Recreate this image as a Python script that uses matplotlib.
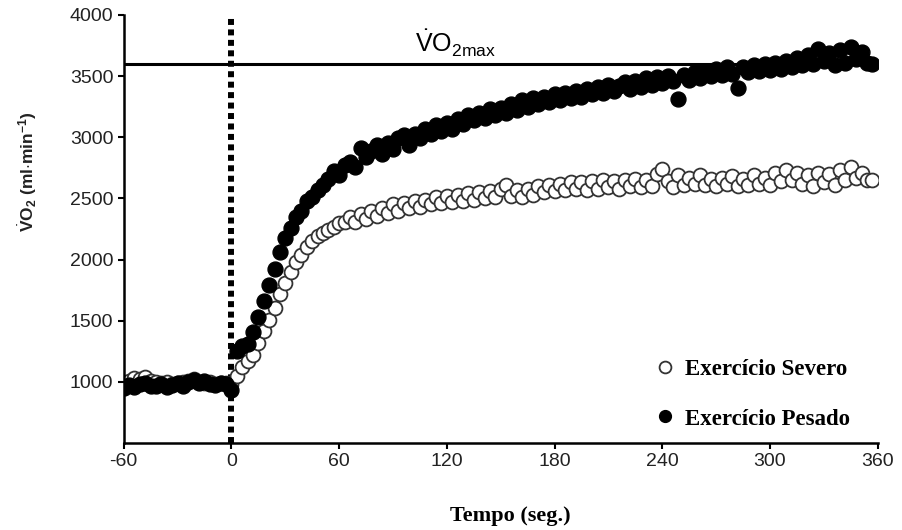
import matplotlib
matplotlib.use("Agg")
import matplotlib.pyplot as plt
from matplotlib.lines import Line2D

plt.rcParams['font.family'] = ['Liberation Sans', 'DejaVu Sans']
plt.rcParams['mathtext.fontset'] = 'custom'
plt.rcParams['mathtext.rm'] = 'Liberation Sans'
plt.rcParams['mathtext.bf'] = 'Liberation Sans:bold'
plt.rcParams['mathtext.it'] = 'Liberation Sans:italic'
plt.rcParams['axes.unicode_minus'] = False

# sampling grid (s), one point every 3 s
tempo = list(range(-60, 360, 3))

# VO2 (ml/min)
pesado = [
    950, 975, 960, 985, 990, 970, 965, 980, 960, 975,
    990, 970, 1000, 1015, 990, 1010, 985, 975, 990, 980,
    930, 1250, 1290, 1310, 1410, 1530, 1660, 1790, 1920, 2060,
    2180, 2260, 2350, 2400, 2480, 2510, 2570, 2610, 2660, 2720,
    2690, 2770, 2800, 2760, 2910, 2840, 2890, 2940, 2860, 2950,
    2900, 2990, 3020, 2940, 3030, 2990, 3070, 3030, 3100, 3050,
    3120, 3070, 3150, 3110, 3180, 3140, 3200, 3160, 3230, 3180,
    3240, 3200, 3270, 3220, 3300, 3250, 3320, 3270, 3330, 3290,
    3350, 3300, 3360, 3320, 3380, 3330, 3390, 3350, 3410, 3360,
    3430, 3380, 3420, 3450, 3390, 3460, 3410, 3480, 3430, 3490,
    3440, 3500, 3460, 3310, 3510, 3470, 3530, 3480, 3540, 3500,
    3560, 3510, 3570, 3520, 3400, 3570, 3530, 3590, 3540, 3600,
    3550, 3610, 3560, 3620, 3570, 3650, 3590, 3670, 3600, 3720,
    3620, 3690, 3590, 3710, 3610, 3740, 3640, 3700, 3610, 3600,
]
severo = [
    990, 1010, 1030, 1020, 1040, 1010, 1000, 990, 1000, 980,
    990, 1000, 1010, 1020, 1000, 990, 1000, 985, 995, 990,
    980, 1050, 1120, 1170, 1220, 1320, 1420, 1510, 1600, 1720,
    1810, 1900, 1980, 2040, 2100, 2150, 2190, 2220, 2240, 2270,
    2300, 2310, 2350, 2310, 2370, 2330, 2400, 2360, 2420, 2380,
    2450, 2400, 2460, 2420, 2480, 2430, 2490, 2450, 2510, 2460,
    2520, 2470, 2530, 2480, 2540, 2490, 2550, 2500, 2560, 2510,
    2580, 2610, 2520, 2570, 2510, 2580, 2530, 2600, 2550, 2610,
    2560, 2620, 2570, 2630, 2580, 2630, 2570, 2640, 2580, 2650,
    2590, 2640, 2580, 2650, 2600, 2660, 2590, 2650, 2600, 2700,
    2740, 2640, 2590, 2690, 2610, 2670, 2620, 2690, 2610, 2660,
    2600, 2670, 2620, 2680, 2600, 2660, 2610, 2690, 2620, 2670,
    2610, 2710, 2640, 2730, 2650, 2710, 2620, 2690, 2600, 2710,
    2630, 2700, 2610, 2730, 2650, 2760, 2670, 2710, 2650, 2650,
]
vo2max = 3600

xticks = [-60, 0, 60, 120, 180, 240, 300, 360]
yticks = [1000, 1500, 2000, 2500, 3000, 3500, 4000]

fig = plt.figure(figsize=(9.03, 5.30), dpi=100)
ax = fig.add_axes([0.137, 0.164, 0.835, 0.808])

ax.axhline(vo2max, color='black', lw=2.2, zorder=1)
ax.axvline(0, color='black', lw=4.3, linestyle=(0, (1.0, 0.75)),
           dash_capstyle='butt', zorder=1)

ax.scatter(tempo, severo, s=100, facecolor='white', edgecolor='#333333',
           linewidth=1.3, zorder=2)
ax.scatter(tempo, pesado, s=115, facecolor='black', edgecolor='black',
           linewidth=1.0, zorder=3)

ax.text(102, 3640, r'$\dot{\mathrm{V}}\mathrm{O}_{\mathrm{2max}}$',
        fontsize=18, va='bottom', ha='left')

ax.set_xlim(-60, 360)
ax.set_ylim(500, 4000)
ax.set_xticks(xticks)
ax.set_yticks(yticks)
ax.tick_params(direction='out', length=4, width=1.5, labelsize=14,
               labelcolor='#222222')
for s in ['top', 'right']:
    ax.spines[s].set_visible(False)
for s in ['left', 'bottom']:
    ax.spines[s].set_linewidth(1.8)

ax.set_ylabel(r'$\dot{\mathbf{V}}\mathbf{O}_\mathbf{2}\ \mathbf{(ml{\cdot}min^{-1})}$',
              fontsize=12.5, color='#222222')
ax.yaxis.set_label_coords(-0.112, 0.633)
ax.set_xlabel('Tempo (seg.)', family='Liberation Serif', weight='bold',
              fontsize=16)
ax.xaxis.set_label_coords(0.513, -0.147)

handles = [
    Line2D([], [], marker='o', ls='none', markersize=8.5, markerfacecolor='white',
           markeredgecolor='#333333', markeredgewidth=1.3),
    Line2D([], [], marker='o', ls='none', markersize=8.5, markerfacecolor='black',
           markeredgecolor='black'),
]
ax.legend(handles, ['Exercício Severo', 'Exercício Pesado'], frameon=False,
          loc='upper left', bbox_to_anchor=(0.674, 0.245),
          prop={'family': 'Liberation Serif', 'weight': 'bold', 'size': 16.5},
          labelspacing=1.25, handletextpad=0.3, handlelength=1.1)

fig.savefig('out.png', dpi=100)
